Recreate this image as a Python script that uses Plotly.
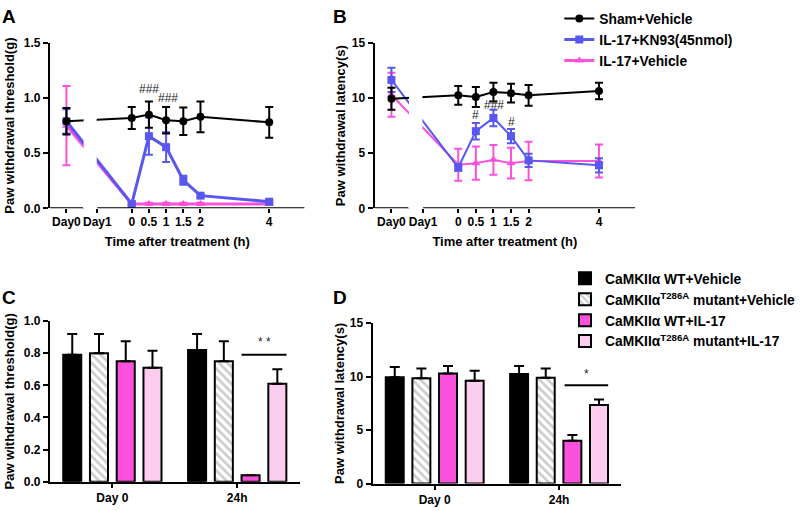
import plotly.graph_objects as go

# ---------------- data ----------------
TIME_H = [0, 0.5, 1, 1.5, 2, 4]          # hours after treatment (Day1)
TIME_LABELS = ["0", "0.5", "1", "1.5", "2", "4"]
SERIES_NAMES = ["Sham+Vehicle", "IL-17+KN93(45nmol)", "IL-17+Vehicle"]

# Panel A: paw withdrawal threshold (g); first value = Day0
a_sham = [0.79, 0.82, 0.85, 0.80, 0.79, 0.83, 0.78]
a_sham_err = [0.12, 0.10, 0.12, 0.12, 0.125, 0.14, 0.14]
a_kn93 = [0.79, 0.04, 0.655, 0.555, 0.255, 0.115, 0.06]
a_kn93_err = [0.11, 0.01, 0.17, 0.135, 0.04, 0.015, 0.012]
a_veh = [0.75, 0.04, 0.04, 0.04, 0.04, 0.04, 0.04]
a_veh_err = [0.36, 0.01, 0.01, 0.01, 0.01, 0.01, 0.01]

# Panel B: paw withdrawal latency (s); first value = Day0
b_sham = [9.95, 10.25, 10.1, 10.55, 10.45, 10.25, 10.65]
b_sham_err = [1.0, 0.85, 0.9, 0.85, 0.85, 0.95, 0.75]
b_kn93 = [11.65, 3.7, 7.0, 8.2, 6.55, 4.35, 3.9]
b_kn93_err = [1.1, 0.3, 0.75, 0.75, 0.65, 0.6, 0.65]
b_veh = [10.3, 3.95, 4.1, 4.4, 4.1, 4.3, 4.3]
b_veh_err = [2.0, 1.45, 1.5, 1.35, 1.4, 1.75, 1.5]

# Panels C / D: bar groups
GROUPS = ["Day 0", "24h"]
BAR_NAMES = ["CaMKIIα WT+Vehicle",
             "CaMKIIα<sup>T286A</sup> mutant+Vehicle",
             "CaMKIIα WT+IL-17",
             "CaMKIIα<sup>T286A</sup> mutant+IL-17"]
c_vals = [[0.79, 0.82], [0.80, 0.75], [0.75, 0.04], [0.71, 0.61]]
c_errs = [[0.13, 0.10], [0.12, 0.125], [0.125, 0.0], [0.105, 0.09]]
d_vals = [[9.95, 10.25], [9.85, 9.9], [10.3, 4.0], [9.6, 7.35]]
d_errs = [[0.95, 0.75], [0.9, 0.85], [0.7, 0.55], [0.95, 0.5]]

# ---------------- styles ----------------
FONT = "Arial, Liberation Sans, sans-serif"
BLACK = "#000000"
BLUE = "#5858f0"
PINK = "#fb52de"
LIGHT_PINK = "#fdcdf0"
LINE_COLORS = [BLACK, BLUE, PINK]
SYMBOLS = ["circle", "square", "triangle-up"]

DAY0_POS = -1.9
BREAK_L, BREAK_R = -1.42, -1.0
XRANGE = [-2.38, 5.03]

W, H = 800, 511


def px_x(p):
    return p / W


def px_y(p):
    return 1 - p / H


fig = go.Figure()

x_line = [DAY0_POS] + TIME_H

panelA = [(a_veh, a_veh_err), (a_kn93, a_kn93_err), (a_sham, a_sham_err)]
panelB = [(b_veh, b_veh_err), (b_kn93, b_kn93_err), (b_sham, b_sham_err)]
order = [2, 1, 0]  # draw pink, blue, black

for (vals, errs), idx in zip(panelA, order):
    fig.add_trace(go.Scatter(
        x=x_line, y=vals, mode="lines+markers", name=SERIES_NAMES[idx],
        line=dict(color=LINE_COLORS[idx], width=2 if idx == 0 else 3),
        marker=dict(symbol=SYMBOLS[idx], size=8, color=LINE_COLORS[idx]),
        error_y=dict(type="data", array=errs, color=LINE_COLORS[idx], thickness=2, width=4),
        xaxis="x", yaxis="y", legend="legend", legendrank=idx + 1, cliponaxis=False))

for (vals, errs), idx in zip(panelB, order):
    fig.add_trace(go.Scatter(
        x=x_line, y=vals, mode="lines+markers", name=SERIES_NAMES[idx],
        line=dict(color=LINE_COLORS[idx], width=2),
        marker=dict(symbol=SYMBOLS[idx], size=8, color=LINE_COLORS[idx]),
        error_y=dict(type="data", array=errs, color=LINE_COLORS[idx], thickness=2, width=4),
        xaxis="x2", yaxis="y2", showlegend=False, cliponaxis=False))

bar_markers = [
    dict(color=BLACK),
    dict(color="white", pattern=dict(shape="\\", fgcolor="#9a9a9a", size=6, solidity=0.45)),
    dict(color=PINK),
    dict(color=LIGHT_PINK),
]

for panel, (vals_all, errs_all, xa, ya) in enumerate([(c_vals, c_errs, "x3", "y3"),
                                                      (d_vals, d_errs, "x4", "y4")]):
    for i in range(4):
        m = dict(bar_markers[i])
        m["line"] = dict(color=BLACK, width=2)
        fig.add_trace(go.Bar(
            x=GROUPS, y=vals_all[i], name=BAR_NAMES[i], marker=m,
            error_y=dict(type="data", symmetric=False, array=errs_all[i],
                         arrayminus=[0] * len(errs_all[i]), color=BLACK, thickness=2, width=5),
            xaxis=xa, yaxis=ya, legend="legend2", showlegend=(panel == 0)))

tickfont = dict(family=FONT, size=12, color=BLACK, weight="bold")
titlefont = dict(family=FONT, size=13, color=BLACK, weight="bold")
legfont = dict(family=FONT, size=13.8, color=BLACK, weight="bold")

common_y = dict(showline=True, linewidth=2, linecolor=BLACK, ticks="outside", ticklen=5,
                tickwidth=2, tickcolor=BLACK, showgrid=False, zeroline=False,
                tickfont=tickfont)
line_x = dict(range=XRANGE, showline=False, showgrid=False, zeroline=False,
              tickvals=[DAY0_POS, BREAK_R] + TIME_H,
              ticktext=["Day0", "Day1"] + TIME_LABELS, tickangle=0,
              ticks="outside", ticklen=4, tickwidth=2, tickcolor=BLACK, tickfont=tickfont,
              ticklabelstandoff=-2,
              title=dict(text="Time after treatment (h)", font=titlefont, standoff=9))
bar_x = dict(type="category", range=[-0.5, 1.5], showline=True, linewidth=2, linecolor=BLACK,
             ticks="outside", ticklen=4, tickwidth=2, tickcolor=BLACK, showgrid=False,
             tickfont=tickfont, tickangle=0)

fig.update_layout(
    width=W, height=H, margin=dict(l=0, r=0, t=0, b=0),
    paper_bgcolor="white", plot_bgcolor="white",
    font=dict(family=FONT, color=BLACK),
    barmode="group", bargap=0.143, bargroupgap=0.325,
    xaxis=dict(domain=[px_x(50), px_x(305)], anchor="y", **line_x),
    yaxis=dict(domain=[px_y(207), px_y(37)], anchor="x", range=[0, 1.5],
               tickvals=[0, 0.5, 1.0, 1.5], tickformat=".1f",
               title=dict(text="Paw withdrawal threshold(g)", font=titlefont, standoff=6),
               **common_y),
    xaxis2=dict(domain=[px_x(375), px_x(636)], anchor="y2", **line_x),
    yaxis2=dict(domain=[px_y(207), px_y(37)], anchor="x2", range=[0, 15],
                tickvals=[0, 5, 10, 15],
                title=dict(text="Paw withdrawal latency(s)", font=titlefont, standoff=3),
                **common_y),
    xaxis3=dict(domain=[px_x(50), px_x(300)], anchor="y3", **bar_x),
    yaxis3=dict(domain=[px_y(488), px_y(323)], anchor="x3", range=[0, 1.0],
                tickvals=[0, 0.2, 0.4, 0.6, 0.8, 1.0], tickformat=".1f",
                title=dict(text="Paw withdrawal threshold(g)", font=titlefont, standoff=6),
                **common_y),
    xaxis4=dict(domain=[px_x(373), px_x(622)], anchor="y4", **bar_x),
    yaxis4=dict(domain=[px_y(490), px_y(325)], anchor="x4", range=[0, 15],
                tickvals=[0, 5, 10, 15],
                title=dict(text="Paw withdrawal latency(s)", font=titlefont, standoff=2),
                **common_y),
    legend=dict(x=px_x(560), y=px_y(-4), xanchor="left", yanchor="top", font=legfont,
                bgcolor="rgba(0,0,0,0)", traceorder="normal", tracegroupgap=0),
    legend2=dict(x=px_x(566), y=px_y(263), xanchor="left", yanchor="top", font=legfont,
                 bgcolor="rgba(0,0,0,0)", traceorder="normal", tracegroupgap=0),
)

shapes = []
# broken x axes for A and B
for xr, yr in [("x", "y"), ("x2", "y2")]:
    shapes.append(dict(type="line", xref=xr, yref=yr, x0=XRANGE[0], x1=BREAK_L, y0=0, y1=0,
                       line=dict(color=BLACK, width=2), layer="above"))
    shapes.append(dict(type="line", xref=xr, yref=yr, x0=BREAK_R, x1=XRANGE[1], y0=0, y1=0,
                       line=dict(color=BLACK, width=2), layer="above"))
    # end tick of the first axis segment
    shapes.append(dict(type="line", xref=xr, yref=yr, x0=BREAK_L, x1=BREAK_L,
                       ysizemode="pixel", yanchor=0, y0=0, y1=-5,
                       line=dict(color=BLACK, width=2), layer="above"))
    shapes.append(dict(type="rect", xref=xr, yref=yr + " domain", x0=BREAK_L + 0.02,
                       x1=BREAK_R - 0.02, y0=0.008, y1=1.0,
                       fillcolor="white", line=dict(width=0), layer="above"))
# significance bars
shapes.append(dict(type="line", xref="x3", yref="y3", x0=1.035, x1=1.395, y0=0.79, y1=0.79,
                   line=dict(color=BLACK, width=2)))
shapes.append(dict(type="line", xref="x4", yref="y4", x0=1.045, x1=1.395, y0=9.2, y1=9.2,
                   line=dict(color=BLACK, width=2)))
fig.update_layout(shapes=shapes)

ann = []
for txt, x, y in [("A", 9, 10), ("B", 340, 10), ("C", 9, 299), ("D", 340, 299)]:
    ann.append(dict(text=txt, x=px_x(x), y=px_y(y), xref="paper", yref="paper",
                    xanchor="center", yanchor="middle", showarrow=False,
                    font=dict(family=FONT, size=19, color=BLACK, weight="bold")))
markfont = dict(family=FONT, size=12, color="#222222")
for txt, x, y, xr, yr in [("###", 0.5, 1.08, "x", "y"), ("###", 1.05, 1.0, "x", "y"),
                          ("#", 0.5, 8.5, "x2", "y2"), ("###", 1.03, 9.35, "x2", "y2"),
                          ("#", 1.5, 7.85, "x2", "y2"),
                          ("* *", 1.215, 0.87, "x3", "y3"), ("*", 1.22, 10.2, "x4", "y4")]:
    ann.append(dict(text=txt, x=x, y=y, xref=xr, yref=yr, showarrow=False, font=markfont))
fig.update_layout(annotations=ann)

fig.write_html("out.html", config={"displayModeBar": False},
               post_script="document.body.style.margin='0';document.body.style.overflow='hidden';")
